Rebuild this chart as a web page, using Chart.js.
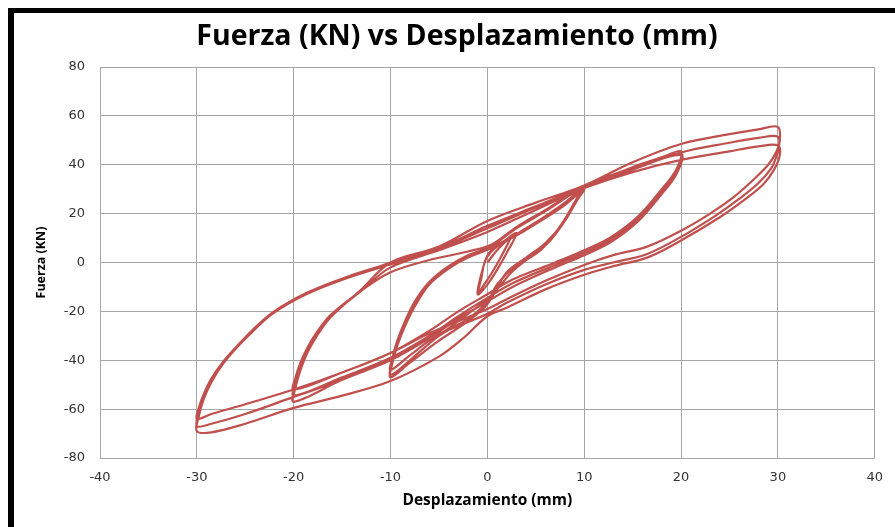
<!DOCTYPE html>
<html>
<head>
<meta charset="utf-8">
<script src="https://cdn.jsdelivr.net/npm/chart.js@4.4.1/dist/chart.umd.min.js"></script>
<style>
html,body{margin:0;padding:0;background:#fff;}
#wrap{position:relative;width:895px;height:527px;overflow:hidden;}
#c{position:absolute;left:0;top:0;}
.bar{position:absolute;background:#000;}
#title{position:absolute;left:0;top:14px;width:914px;text-align:center;font-family:'Open Sans';font-weight:bold;font-size:28.5px;line-height:40px;color:#000;white-space:nowrap;}
</style>
</head>
<body>
<div id="wrap">
<canvas id="c" width="895" height="527"></canvas>
<div id="title"></div>
<div class="bar" style="left:8px;top:8px;width:887px;height:5px;"></div>
<div class="bar" style="left:8px;top:8px;width:6px;height:519px;"></div>
</div>
<script>
// Chart text
const chartTitle = "Fuerza (KN) vs Desplazamiento (mm)";
const xTitle = "Desplazamiento (mm)";
const yTitle = "Fuerza (KN)";
const xTicksRange = [-40, 40, 10];
const yTicksRange = [-80, 80, 20];

// Small initial cycles (mm, kN)
const pequenoX = [0, 1, 2, 2.5, 1.5, 0.5, -0.5, -1, -0.6, -0.3, 0.3, 1.5, 3, 2, 1, 0, -1, -0.5, 0.2];
const pequenoY = [0, 5, 9, 11, 3, -4, -10, -13, -6, 0, 4, 8, 12, 4, -3, -9, -13, -3, 4];

// ±10 mm cycles
const ciclo10X = [2, 4, 6, 8, 10,
  9.2, 8.2, 7, 5.5, 4, 2.5, 1, 0, -2, -4, -6, -8, -10,
  -9.8, -9.3, -8.5, -7.5, -6, -4, -2, 0.5, 3, 5.5, 8, 10,
  9.2, 8, 6.5, 5, 3, 1, 0, -2, -5, -8, -10,
  -9.8, -9.3, -8.5, -7.5, -6, -4, -2, 0.5, 3, 5.5, 8, 10,
  9, 8, 6, 4, 2, 0, -2, -5, -8, -10];
const ciclo10Y = [9, 14, 19, 24.5, 31,
  26, 19, 12, 5, 1, -4, -11, -15, -21, -27, -32, -38, -44,
  -39, -32, -24, -16, -8, -1.5, 3, 6.5, 11.5, 17.5, 24, 30.5,
  25, 17, 9, 4, -1, -9, -16, -23, -30, -40, -46,
  -40, -33, -25, -17, -9, -2.5, 2, 6, 11, 17, 23.5, 30,
  24, 17, 8, 2, -4, -17, -24, -32, -41, -47];

// ±20 mm cycles
const ciclo20X = [-9.8, -9.3, -8.5, -7.5, -6, -4, -2, 0.5, 3, 6, 10, 15, 18, 20,
  19.5, 18, 15.6, 12.8, 10, 7, 2.6, 0, -3, -6, -10, -15, -20,
  -19.8, -19.3, -18.6, -17.6, -16.2, -13, -10, -6, -2, 0.5, 3, 6, 10, 15, 20,
  19.5, 18, 15.6, 12.8, 10, 7, 2.6, 0, -3, -6, -10, -15, -20,
  -19.8, -19.3, -18.6, -17.6, -16.2, -13, -10, -5, 0, 5, 10, 15, 20,
  19.5, 18, 15.6, 12.8, 10, 7, 2.6, 0, -3, -6, -10, -15, -20];
const ciclo20Y = [-41, -34, -26, -18, -9, -2.5, 2.5, 7, 14, 21, 31, 39, 43, 45.5,
  38, 30, 19, 10.5, 5, 0, -7, -13, -20, -28, -37, -45, -52,
  -47, -41, -35, -28.5, -21.5, -11.5, -4, 1, 4.5, 7.5, 14.5, 21.5, 31, 38.5, 44.5,
  37, 29, 18, 9.5, 4, -1, -8.5, -14.5, -22, -30, -39, -47, -54.5,
  -49.5, -43, -36.5, -29.5, -22, -11.5, -2, 5, 12.5, 21.5, 30.5, 38, 44,
  36, 28, 17, 8.5, 3, -2, -10, -16, -23, -31, -40, -48, -57];

// ±30 mm cycles
const ciclo30X = [-19.8, -19.3, -18.6, -17.6, -16.2, -13, -10, -5, 0, 5, 10, 15, 20, 25, 28, 30,
  30.2, 29.8, 29, 27.5, 25.5, 23, 20, 16.5, 13, 10, 6, 2, 0, -3, -6, -10, -15, -20, -25, -28.5, -30,
  -29.8, -29.3, -28.5, -27.3, -25.8, -24.3, -22.2, -18.7, -14.6, -9.8, -5, 0, 5, 10, 15, 20, 25, 28, 30,
  30.1, 29.9, 29.3, 28, 26, 23.5, 20, 16.5, 13, 10, 6, 2, 0, -3, -6, -10, -15, -20, -25, -28.5, -30,
  -29.8, -29.3, -28.5, -27.3, -25.8, -24.3, -22.2, -18.7, -14.6, -9.8, -5, 0, 5, 10, 15, 20, 25, 28, 30,
  30.2, 29.6, 28.5, 26.5, 24, 20, 16.5, 13, 10, 6, 2, 0, -2.5, -5, -10, -15, -20, -25, -28.5, -30,
  -29.8, -29.3, -28.5, -27.3, -25.8, -24.3, -22.2, -18.7, -14.6, -10];
const ciclo30Y = [-51, -44, -37, -30, -22.5, -11, 0, 6.5, 17, 24.5, 31.5, 41, 48.5, 52.5, 54.5, 55.5,
  50, 45, 40, 34, 27, 20, 13, 6.5, 3, -1, -7.5, -15, -19, -24, -29, -37, -45, -52, -58, -62, -64,
  -59.5, -54, -47.5, -40.7, -34, -27.8, -20.5, -12.5, -6, 0, 6, 15, 23, 31, 38, 45, 49, 51, 51.5,
  47, 44, 38.5, 32.5, 26, 19, 10.5, 3.5, 0, -3, -9, -16.5, -21, -26, -31, -39.5, -48, -55, -62, -66, -67,
  -61.5, -55.5, -48.5, -41.5, -34.5, -28.5, -21, -13, -6.5, -0.5, 5.5, 14, 22.5, 30.5, 37, 42, 45.5, 47.5, 48,
  44, 38, 32, 25.5, 18.5, 9, 2, -1.5, -5, -11, -18.5, -22, -31, -38.5, -48.5, -54.5, -59.5, -66, -69.5, -69,
  -63, -56, -49, -41.5, -34.5, -28.5, -21, -13, -6.5, 0];

const desplazamiento = [].concat(pequenoX, ciclo10X, ciclo20X, ciclo30X);
const fuerza = [].concat(pequenoY, ciclo10Y, ciclo20Y, ciclo30Y);
const puntos = desplazamiento.map((x, i) => ({x: x, y: fuerza[i]}));

document.getElementById('title').textContent = chartTitle;

const gridColor = '#a6a6a6';
new Chart(document.getElementById('c'), {
  type: 'scatter',
  data: {
    datasets: [{
      data: puntos,
      showLine: true,
      borderColor: '#C0504D',
      backgroundColor: '#C0504D',
      borderWidth: 2.2,
      pointRadius: 0,
      tension: 0.35,
      fill: false
    }]
  },
  options: {
    responsive: false,
    animation: false,
    devicePixelRatio: 1,
    layout: {padding: {left: 0, right: 18, top: 67, bottom: 0}},
    plugins: {
      legend: {display: false},
      tooltip: {enabled: false},
      title: {display: false}
    },
    scales: {
      x: {
        type: 'linear',
        min: xTicksRange[0], max: xTicksRange[1],
        ticks: {stepSize: xTicksRange[2], color: '#333', font: {family: 'DejaVu Sans', size: 13}, padding: 12},
        grid: {color: gridColor, lineWidth: 1, drawTicks: false},
        border: {color: gridColor, width: 1},
        title: {display: true, text: xTitle, color: '#000', font: {family: 'Open Sans', size: 15.5, weight: 'bold'}, padding: {top: 0, bottom: 17}},
        afterFit: s => { s.height = 69; }
      },
      y: {
        type: 'linear',
        min: yTicksRange[0], max: yTicksRange[1],
        ticks: {stepSize: yTicksRange[2], color: '#333', font: {family: 'DejaVu Sans', size: 13}, padding: 15},
        grid: {color: gridColor, lineWidth: 1, drawTicks: false},
        border: {color: gridColor, width: 1},
        title: {display: true, text: yTitle, color: '#000', font: {family: 'Open Sans', size: 12.5, weight: 'bold'}, padding: {top: 34, bottom: 0}},
        afterFit: s => { s.width = 100; }
      }
    }
  }
});
</script>
</body>
</html>
